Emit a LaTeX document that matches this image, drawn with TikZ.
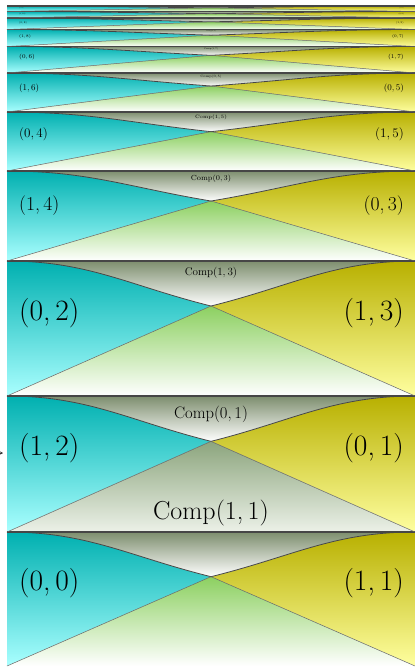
\documentclass[tikz,border=0pt]{standalone}
\usetikzlibrary{arrows.meta}
\definecolor{cyanT}{RGB}{0,176,176}
\definecolor{cyanB}{RGB}{170,255,255}
\definecolor{oliveT}{RGB}{184,176,0}
\definecolor{oliveB}{RGB}{255,255,160}
\definecolor{greyT}{RGB}{125,142,110}
\definecolor{greenC}{RGB}{140,208,96}
\definecolor{compT}{RGB}{140,165,125}
\definecolor{compB}{RGB}{236,241,232}
\definecolor{edgeC}{RGB}{70,70,70}
\begin{document}
\begin{tikzpicture}[x=1pt,y=-1pt,
  curveline/.style={draw=edgeC,line width=0.8pt},
  lowline/.style={draw=black!60,line width=0.5pt},
  topline/.style={draw=edgeC,line width=1.4pt},
  lab/.style={inner sep=0pt,text=black}]
\useasboundingbox (0,0) rectangle (415,667);
\def\bands{532/666/0, 396/532/1, 261/396/2, 171/261/3, 112/171/4, 73/112/5, 46.5/73/6, 29.5/46.5/7, 18/29.5/8, 11.5/18/9, 6/11.5/10}
% fills
\foreach \t/\b/\k in \bands {
  \pgfmathsetmacro\H{\b-\t}
  \pgfmathsetmacro\yc{\t+\H/3}
  \pgfmathsetmacro\ya{\t+0.55*\H/3}
  \shade[top color=cyanT,bottom color=cyanB]
    (7,\t) .. controls (88.6,\t) and (129.4,\ya) .. (211,\yc) -- (7,\b) -- cycle;
  \shade[top color=oliveT,bottom color=oliveB]
    (415,\t) .. controls (333.4,\t) and (292.6,\ya) .. (211,\yc) -- (415,\b) -- cycle;
  \shade[top color=greyT,bottom color=white]
    (7,\t) .. controls (88.6,\t) and (129.4,\ya) .. (211,\yc)
    .. controls (292.6,\ya) and (333.4,\t) .. (415,\t) -- cycle;
  \ifnum\k=1
    \shade[top color=compT,bottom color=compB] (211,\yc) -- (415,\b) -- (7,\b) -- cycle;
  \else
    \shade[top color=greenC,bottom color=white] (211,\yc) -- (415,\b) -- (7,\b) -- cycle;
  \fi
}
% strokes and labels
\foreach \t/\b/\k in \bands {
  \pgfmathsetmacro\H{\b-\t}
  \pgfmathsetmacro\yc{\t+\H/3}
  \pgfmathsetmacro\ya{\t+0.55*\H/3}
  \draw[curveline] (7,\t) .. controls (88.6,\t) and (129.4,\ya) .. (211,\yc)
    .. controls (292.6,\ya) and (333.4,\t) .. (415,\t);
  \draw[lowline] (7,\b) -- (211,\yc) -- (415,\b);
  \draw[topline] (7,\t) -- (415,\t);
  \pgfmathsetmacro\fs{\k<3 ? 29.5 : 29.5*(2/3)^(\k-2)}
  \pgfmathsetmacro\cs{16.6*(2/3)^(\k-1)}
  \pgfmathsetmacro\ly{\t+0.385*\H}
  \pgfmathsetmacro\cy{\t+1.1*\cs}
  \pgfmathtruncatemacro\kk{\k+1}
  \ifodd\k
    \node[lab,anchor=west,font=\fontsize{\fs pt}{\fs pt}\selectfont] (L\k) at (19,\ly) {(1,\,\kk)};
    \node[lab,anchor=east,font=\fontsize{\fs pt}{\fs pt}\selectfont] (R\k) at (404,\ly) {(0,\,\k)};
    \node[lab,font=\fontsize{\cs pt}{\cs pt}\selectfont] (C\k) at (211,\cy) {Comp(0,\,\k)};
  \else
    \node[lab,anchor=west,font=\fontsize{\fs pt}{\fs pt}\selectfont] (L\k) at (19,\ly) {(0,\,\k)};
    \node[lab,anchor=east,font=\fontsize{\fs pt}{\fs pt}\selectfont] (R\k) at (404,\ly) {(1,\,\kk)};
    \ifnum\k>0
      \node[lab,font=\fontsize{\cs pt}{\cs pt}\selectfont] (C\k) at (211,\cy) {Comp(1,\,\kk)};
    \fi
  \fi
}
\node[lab,font=\fontsize{26pt}{26pt}\selectfont] (C11) at (211,513) {Comp(1,\,1)};
\coordinate (arrS) at (-12,453);
\coordinate (arrE) at (3,453);
\draw[-{Stealth[length=3pt,width=3pt]},line width=0.4pt,black!80] (arrS) -- (arrE);
\end{tikzpicture}
\end{document}
